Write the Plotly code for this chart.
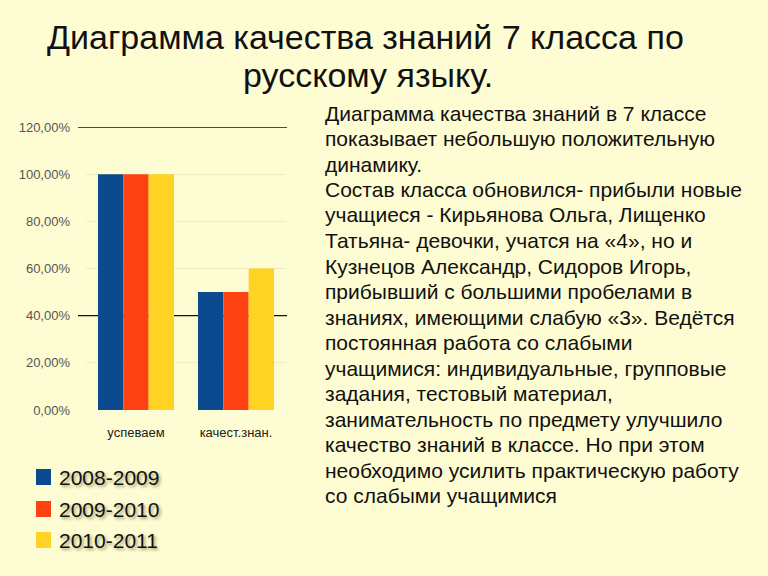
import plotly.graph_objects as go

categories = ["успеваем", "качест.знан."]
series_names = ["2008-2009", "2009-2010", "2010-2011"]
values_2008 = [1.00, 0.50]
values_2009 = [1.00, 0.50]
values_2010 = [1.00, 0.60]
tick_values = [0, 0.2, 0.4, 0.6, 0.8, 1.0, 1.2]
dark_grid = [1.2, 0.4]
faint_grid = [v for v in tick_values if v not in dark_grid]

colors = ["#0B4A8E", "#FF4212", "#FFD324"]
bg = "#FEFCD2"

title_lines = ["Диаграмма качества знаний 7 класса по", "русскому языку."]
body_lines = [
    "Диаграмма качества знаний в 7 классе",
    "показывает небольшую положительную",
    "динамику.",
    "Состав класса обновился- прибыли новые",
    "учащиеся - Кирьянова Ольга, Лищенко",
    "Татьяна- девочки, учатся на «4», но и",
    "Кузнецов Александр, Сидоров Игорь,",
    "прибывший с большими пробелами в",
    "знаниях, имеющими слабую «3». Ведётся",
    "постоянная работа со слабыми",
    "учащимися: индивидуальные, групповые",
    "задания, тестовый материал,",
    "занимательность по предмету улучшило",
    "качество знаний в классе. Но при этом",
    "необходимо усилить практическую работу",
    "со слабыми учащимися",
]

W, H = 768, 576
FONT = "Liberation Sans, Arial, sans-serif"
fig = go.Figure()
for name, vals, col in zip(series_names, [values_2008, values_2009, values_2010], colors):
    fig.add_trace(go.Bar(x=categories, y=vals, name=name, marker=dict(color=col, line=dict(width=0)),
                         showlegend=False))

x0, x1 = 86 / W, 286 / W
y0, y1 = (H - 410) / H, (H - 127) / H

fig.update_layout(
    width=W, height=H,
    margin=dict(l=0, r=0, t=0, b=0),
    paper_bgcolor=bg, plot_bgcolor=bg,
    separators=", ",
    barmode="group", bargap=0.24, bargroupgap=0,
    font=dict(family=FONT, color="#222"),
    xaxis=dict(domain=[x0, x1], showgrid=False, showline=False, ticks="",
               tickfont=dict(size=13, color="#222"), ticklabelstandoff=13, automargin=False),
    yaxis=dict(domain=[y0, y1], range=[0, 1.2], tickvals=tick_values, tickformat=".2%",
               showgrid=False, zeroline=False,
               minor=dict(tickvals=faint_grid, showgrid=True, gridcolor="#EEEBBE", gridwidth=1, ticks=""),
               tickfont=dict(size=13, color="#555"), ticklabelstandoff=15, automargin=False),
)

# emphasised grid lines
for yv in dark_grid:
    fig.add_shape(type="line", xref="paper", yref="y", x0=78 / W, x1=287 / W, y0=yv, y1=yv,
                  line=dict(color="#111", width=1.3), layer="below")

for txt, cx, cy in zip(title_lines, [365, 368], [37, 75]):
    fig.add_annotation(text=txt, xref="paper", yref="paper", x=cx / W, y=1 - cy / H,
                       xanchor="center", yanchor="middle", showarrow=False,
                       font=dict(size=34, color="#111", family=FONT))

for i, line in enumerate(body_lines):
    cy = 113 + i * 25.5
    fig.add_annotation(text=line, xref="paper", yref="paper", x=323 / W, y=1 - cy / H,
                       xanchor="left", yanchor="middle", showarrow=False, align="left",
                       font=dict(size=21, color="#111", family=FONT))

# legend
leg_y = [477, 509, 540]
for name, col, yy in zip(series_names, colors, leg_y):
    fig.add_shape(type="rect", xref="paper", yref="paper", x0=36 / W, x1=51 / W,
                  y0=1 - (yy + 8) / H, y1=1 - (yy - 8) / H, line=dict(width=0), fillcolor=col)
    fig.add_annotation(text=name, xref="paper", yref="paper", x=57 / W, y=1 - yy / H,
                       xanchor="left", yanchor="middle", showarrow=False,
                       font=dict(size=21, color="#111", shadow="2px 2px 3px rgba(60,60,0,0.45)"))

fig.write_html("out.html")
